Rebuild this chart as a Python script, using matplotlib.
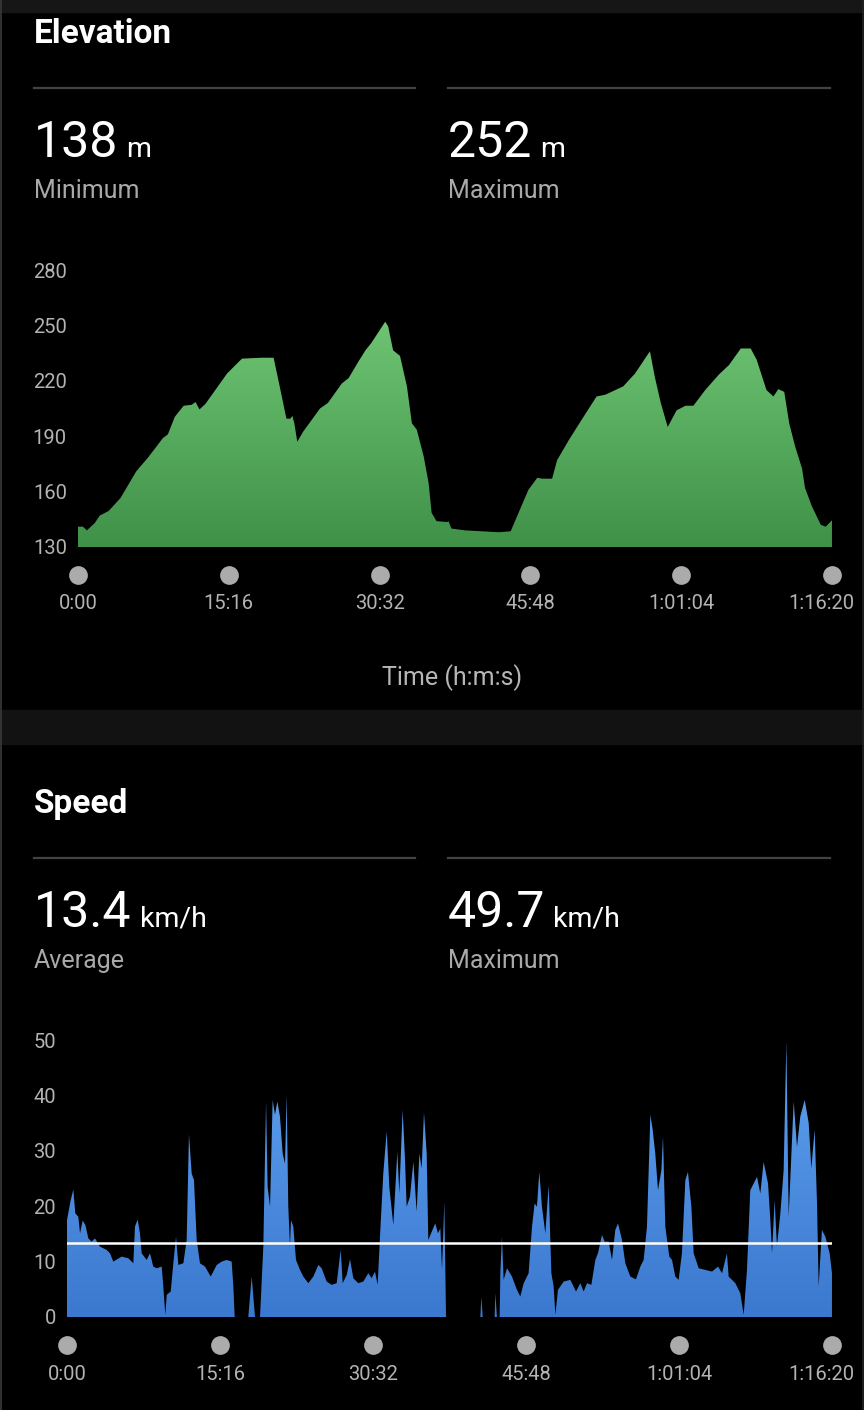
import numpy as np
import matplotlib
matplotlib.use('Agg')
import matplotlib.pyplot as plt
import matplotlib.transforms as mtransforms
from matplotlib.colors import LinearSegmentedColormap
from matplotlib.patches import Polygon, Rectangle
from matplotlib.lines import Line2D

plt.rcParams['font.family'] = ['Roboto', 'DejaVu Sans']

W, H = 864, 1410
DURATION_MIN = 4580 / 60.0

# elevation profile (minutes, metres)
elev_min = [0.0, 0.5, 0.9, 1.7, 2.2, 3.1, 4.3, 5.9, 7.1, 8.6,
            9.1, 9.8, 10.7, 11.5, 11.9, 12.3, 12.9, 13.7, 15.1, 16.6,
            18.6, 19.8, 20.4, 21.1, 21.5, 21.7, 21.9, 22.2, 22.8, 24.5,
            25.3, 26.7, 27.4, 28.4, 29.1, 29.7, 31.1, 31.4, 31.9, 32.6,
            33.3, 33.8, 34.3, 35.0, 35.5, 35.8, 36.3, 37.4, 37.5, 37.8,
            39.2, 40.9, 42.6, 43.8, 45.0, 45.6, 46.5, 47.0, 48.0, 48.5,
            49.7, 51.0, 52.5, 53.4, 55.2, 56.4, 57.9, 58.4, 59.0, 59.7,
            60.6, 61.5, 62.3, 63.5, 64.9, 65.9, 67.1, 68.1, 68.7, 69.7,
            70.4, 70.9, 71.5, 72.0, 72.6, 73.3, 73.6, 74.3, 75.2, 75.7,
            76.33]
elev_m = [141, 141, 139, 143, 147, 149.5, 156.5, 171, 178.5, 189,
          191, 200.5, 206.5, 207, 208.5, 204.5, 207.5, 213.5, 224, 232,
          232.5, 232.5, 217.5, 199.5, 199.5, 201, 197, 187, 192.5, 205,
          208, 218.5, 221.5, 230.5, 236.5, 240.5, 252, 249.5, 236.5, 233.5,
          217, 197, 193.5, 179, 164.5, 148.5, 144, 143.5, 144, 140,
          139, 138.5, 138, 138.5, 153.5, 161, 167.5, 167, 167, 177,
          188, 199, 211.5, 212.5, 217, 224, 236, 222, 208, 195,
          204, 206.5, 206.5, 215, 223.5, 228.5, 237.5, 237.5, 231.5, 215,
          211.5, 215.5, 214, 197, 184.5, 172.5, 162, 152, 142, 141,
          144.5]

# speed profile (minutes, km/h)
speed_min = [
    0.00, 0.37, 0.63, 0.83, 1.13, 1.30, 1.56, 1.83, 2.13, 2.46,
    2.79, 3.29, 3.96, 4.29, 4.62, 5.45, 6.12, 6.62, 6.78, 7.05,
    7.28, 7.45, 7.95, 8.28, 8.61, 8.95, 9.45, 9.61, 9.81, 9.95,
    10.35, 10.61, 10.88, 11.11, 11.61, 11.94, 12.17, 12.44, 12.67, 12.94,
    13.27, 13.77, 14.34, 14.94, 15.44, 15.93, 16.43, 16.60, 16.73, 18.09,
    18.43, 18.76, 19.26, 19.59, 19.86, 20.02, 20.26, 20.52, 20.75, 20.99,
    21.25, 21.52, 21.75, 21.92, 22.08, 22.25, 22.35, 22.58, 22.85, 23.25,
    23.58, 24.08, 24.58, 25.08, 25.41, 25.91, 26.41, 26.91, 27.31, 27.51,
    27.91, 28.24, 28.57, 29.07, 29.57, 30.06, 30.40, 30.73, 31.00, 31.23,
    31.56, 31.90, 32.16, 32.56, 32.96, 33.16, 33.49, 33.73, 33.89, 34.22,
    34.56, 34.89, 35.16, 35.39, 35.62, 35.89, 36.05, 36.42, 36.75, 37.02,
    37.25, 37.42, 37.65, 37.82, 41.25, 41.34, 41.48, 42.67, 42.74, 42.90,
    43.17, 43.24, 43.40, 43.57, 43.90, 44.40, 44.90, 45.23, 45.57, 46.06,
    46.40, 46.66, 46.89, 47.13, 47.39, 47.73, 48.06, 48.33, 48.56, 48.73,
    48.99, 49.56, 50.22, 50.79, 51.22, 51.55, 51.89, 52.32, 52.72, 52.98,
    53.38, 53.65, 54.05, 54.38, 54.71, 54.98, 55.38, 55.71, 56.21, 56.77,
    57.21, 57.54, 57.87, 58.21, 58.44, 58.70, 58.97, 59.31, 59.47, 59.70,
    60.10, 60.37, 60.70, 61.03, 61.36, 61.70, 61.96, 62.30, 62.53, 63.03,
    63.69, 64.36, 64.96, 65.36, 65.85, 66.02, 66.69, 67.18, 67.52, 67.85,
    68.18, 68.52, 68.85, 69.18, 69.51, 69.95, 70.18, 70.35, 70.61, 70.84,
    71.18, 71.51, 71.78, 72.01, 72.51, 72.84, 73.17, 73.61, 74.01, 74.27,
    74.60, 74.84, 75.00, 75.33, 75.67, 76.10, 76.33,
]
speed_kmh = [
    17.5, 21.1, 23.0, 18.7, 18.1, 15.1, 17.4, 16.6, 14.2, 13.6,
    14.2, 12.7, 12.1, 11.5, 10.0, 10.9, 10.6, 9.7, 16.3, 17.6,
    15.1, 11.5, 10.3, 11.5, 9.1, 8.8, 9.1, 5.5, 0.4, 4.0,
    4.6, 9.7, 14.5, 9.4, 9.7, 13.9, 33.0, 25.9, 24.7, 13.9,
    9.7, 9.1, 7.3, 9.4, 10.0, 10.3, 10.0, 5.5, 0.0, 0.0,
    7.3, 0.0, 0.0, 12.7, 38.9, 23.5, 19.9, 39.2, 36.5, 38.9,
    36.2, 29.5, 27.7, 40.1, 19.9, 12.7, 17.5, 16.3, 10.3, 8.5,
    7.3, 6.1, 7.3, 9.4, 8.8, 6.4, 5.8, 6.1, 12.1, 6.1,
    7.6, 10.4, 7.0, 6.1, 6.4, 7.9, 7.0, 8.2, 5.8, 14.5,
    25.9, 33.5, 23.5, 16.6, 29.8, 22.3, 37.4, 28.3, 19.9, 21.7,
    28.0, 19.0, 29.5, 26.8, 36.9, 29.5, 13.9, 15.5, 16.9, 15.1,
    16.0, 8.5, 20.8, 0.0, 0.0, 3.7, 0.0, 0.0, 4.3, 0.0,
    0.0, 7.9, 14.5, 6.7, 8.8, 7.3, 4.9, 3.7, 6.1, 7.9,
    16.3, 20.5, 19.9, 26.2, 19.9, 15.1, 23.8, 7.9, 5.5, 0.4,
    4.9, 6.4, 6.7, 4.6, 6.1, 4.6, 6.1, 5.8, 10.3, 11.5,
    14.8, 13.6, 13.6, 10.3, 15.7, 16.9, 13.9, 9.7, 7.3, 6.8,
    9.1, 10.3, 16.3, 36.5, 33.8, 29.5, 22.9, 26.5, 32.6, 16.3,
    10.9, 10.3, 7.3, 6.7, 11.5, 24.7, 26.2, 19.9, 11.5, 8.8,
    8.5, 8.2, 9.1, 7.9, 11.5, 7.3, 6.1, 4.3, 0.4, 8.5,
    22.9, 24.1, 25.3, 22.3, 28.0, 24.1, 17.5, 11.5, 21.1, 12.7,
    18.7, 26.5, 49.7, 18.1, 38.9, 30.7, 36.2, 39.2, 35.0, 26.8,
    33.8, 20.5, 5.5, 15.7, 14.5, 11.5, 7.9,
]
avg_speed = 13.4

elev_stats = ["138", "252"]
speed_stats = ["13.4", "49.7"]
elev_stat_labels = ["Minimum", "Maximum"]
speed_stat_labels = ["Average", "Maximum"]
tick_seconds = [0, 916, 1832, 2748, 3664, 4580]
tick_labels = ["0:00", "15:16", "30:32", "45:48", "1:01:04", "1:16:20"]
elev_yticks = [130, 160, 190, 220, 250, 280]
speed_yticks = [0, 10, 20, 30, 40, 50]

GRAY_TXT = '#a9a9a9'
TICK_TXT = '#b3b3b3'


def fx(x):
    return x / W


def fy(y):
    return 1 - y / H


fig = plt.figure(figsize=(W / 100, H / 100), dpi=100, facecolor='black')
renderer = fig.canvas.get_renderer()


def band(y0, y1, color):
    fig.patches.append(Rectangle((0, fy(y1)), 1, (y1 - y0) / H,
                                 transform=fig.transFigure, color=color, zorder=0))


band(0, 12, '#161616')
band(710, 744, '#121212')
fig.add_artist(Line2D([fx(0.8), fx(0.8)], [0, 1], color='#3a3a3a', lw=1.2,
                      transform=fig.transFigure))
fig.add_artist(Line2D([fx(863.2), fx(863.2)], [0, 1], color='#222222', lw=1.2,
                      transform=fig.transFigure))


def header(title, dy, values, unit, labels):
    fig.text(fx(34), fy(43 + dy), title, color='white', fontsize=24,
             fontweight='bold', va='baseline')
    for x0, x1, val, lab in zip([34, 448], [415, 830], values, labels):
        fig.add_artist(Line2D([fx(x0), fx(x1)], [fy(88 + dy)] * 2, color='#434343',
                              lw=1.6, transform=fig.transFigure))
        t = fig.text(fx(x0), fy(157 + dy), val, color='white', fontsize=36,
                     va='baseline')
        bb = t.get_window_extent(renderer)
        fig.text((bb.x1 + 8) / W, fy(157 + dy), unit, color='white', fontsize=20.5,
                 va='baseline')
        fig.text(fx(x0), fy(198 + dy), lab, color=GRAY_TXT, fontsize=18,
                 va='baseline')


def chart(left, ybot, ytop, xs, ys, ylims, yticks, c_bot, c_top):
    ax = fig.add_axes([fx(left), fy(ybot), fx(832) - fx(left), (ybot - ytop) / H])
    ax.set_facecolor('none')
    base = ylims[0]
    verts = [(xs[0], base)] + list(zip(xs, ys)) + [(xs[-1], base)]
    poly = Polygon(verts, closed=True, facecolor='none', edgecolor='none')
    ax.add_patch(poly)
    cmap = LinearSegmentedColormap.from_list('fill', [c_bot, c_top])
    grad = np.linspace(0, 1, 256).reshape(-1, 1)
    im = ax.imshow(grad, cmap=cmap, aspect='auto', origin='lower',
                   extent=[xs[0], xs[-1], base, max(ys)], zorder=1)
    im.set_clip_path(poly)
    ax.set_xlim(0, DURATION_MIN)
    ax.set_ylim(*ylims)
    ax.set_yticks(yticks)
    ax.set_xticks([])
    ax.tick_params(axis='y', length=0, pad=8, labelsize=14.5, labelcolor=TICK_TXT)
    for s in ax.spines.values():
        s.set_visible(False)

    # time axis: grey dots with labels below
    blend = mtransforms.blended_transform_factory(ax.transData, fig.transFigure)
    tick_min = [s / 60.0 for s in tick_seconds]
    ax.plot(tick_min, [fy(ybot + 28)] * len(tick_min), 'o', color='#ababab',
            ms=13.5, mew=0, transform=blend, clip_on=False)
    for i, (t, lab) in enumerate(zip(tick_min, tick_labels)):
        if i == len(tick_min) - 1:
            tr = mtransforms.offset_copy(blend, fig=fig, x=22, y=0, units='dots')
            ax.text(t, fy(ybot + 57), lab, transform=tr, ha='right', va='center',
                    fontsize=14.5, color=TICK_TXT)
        else:
            ax.text(t, fy(ybot + 57), lab, transform=blend, ha='center', va='center',
                    fontsize=14.5, color=TICK_TXT)
    return ax


# Elevation
header("Elevation", 0, elev_stats, "m", elev_stat_labels)
chart(78, 547, 270, elev_min, elev_m, (130, 280), elev_yticks, '#3f9148', '#6ec473')
fig.text(fx(452), fy(678), "Time (h:m:s)", ha='center', va='center', fontsize=18,
         color='#b6b6b6')

# Speed
header("Speed", 770, speed_stats, "km/h", speed_stat_labels)
ax2 = chart(67, 1317, 1040, speed_min, speed_kmh, (0, 50), speed_yticks,
            '#3b78cf', '#5fa2f0')
ax2.axhline(avg_speed, color='white', lw=1.8, zorder=3)

fig.savefig('out.png', dpi=100, facecolor='black')
